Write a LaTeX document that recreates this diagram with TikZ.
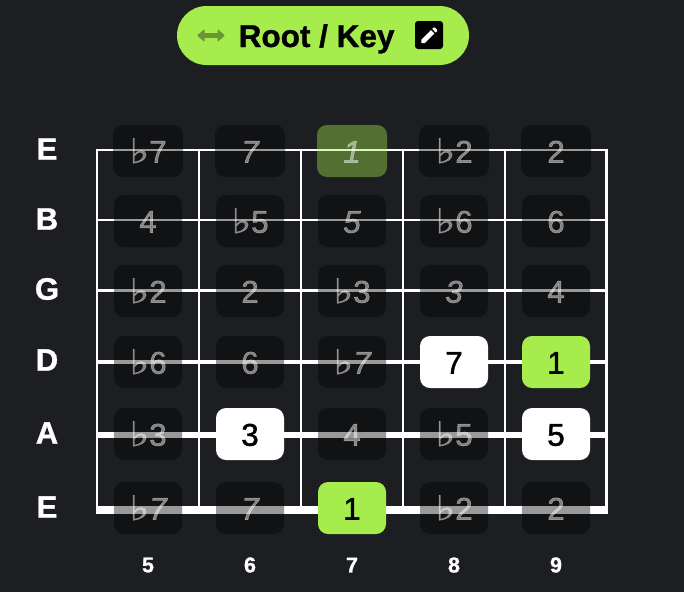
\documentclass[tikz,border=0pt]{standalone}
\usepackage{fontspec}
\setmainfont{Liberation Sans}
\newfontfamily\flatfont[FakeBold=0.6]{DejaVu Sans}
\newfontfamily\notefont[FakeBold=1.3]{Liberation Sans}
\newfontfamily\heavyfont[FakeBold=1.0]{Liberation Sans}
\definecolor{pagebg}{HTML}{1D1E22}
\definecolor{lime}{HTML}{A6EC4C}
\definecolor{arrowgreen}{HTML}{6B9636}
\newcommand{\fl}{{\flatfont\fontsize{27}{27}\selectfont\raisebox{-0.5pt}{\scalebox{1.6}[1.27]{♭}}}\kern-0.5pt}
\tikzset{
  x=1pt,y=-1pt,
  notebase/.style={rounded corners=10pt,minimum width=68pt,minimum height=52pt,inner sep=0pt,font=\notefont\fontsize{31.5}{31.5}\selectfont,text height=23.5pt,text depth=0pt},
  ghost/.style={notebase,fill=black,fill opacity=0.4,text=white,text opacity=0.47},
  ghostwide/.style={ghost,minimum width=70pt},
  rootghost/.style={notebase,minimum width=70pt,fill=lime,fill opacity=0.4,text=white,text opacity=0.47},
  rootnote/.style={notebase,fill=lime,text=black},
  tonenote/.style={notebase,fill=white,text=black},
  strlabel/.style={text=white,font=\heavyfont\bfseries\fontsize{31}{31}\selectfont,inner sep=0pt},
  fretlabel/.style={text=white,font=\heavyfont\bfseries\fontsize{21.5}{21.5}\selectfont,inner sep=0pt},
  wire/.style={draw=white,line cap=butt},
}
\begin{document}
\begin{tikzpicture}
\useasboundingbox[fill=pagebg] (0,0) rectangle (684,592);
% pill
\node[fill=lime,rounded corners=29.5pt,minimum width=292pt,minimum height=59pt,inner sep=0pt] (pill) at (323,35.5) {};
\node[inner sep=0pt,text=black,font=\heavyfont\bfseries\fontsize{31.5}{31.5}\selectfont,anchor=base west] (title) at (238.5,47) {Root / Key};
\coordinate (arrL) at (197,35.5);
\coordinate (arrR) at (225,35.5);
\draw[arrowgreen,line width=4.4pt] (arrL) ++(5,0) -- ([xshift=-5pt]arrR);
\fill[arrowgreen,rounded corners=0.8pt] (arrL) -- ++(7.5,-6.5) -- ++(0,13) -- cycle;
\fill[arrowgreen,rounded corners=0.8pt] (arrR) -- ++(-7.5,-6.5) -- ++(0,13) -- cycle;
\node[fill=black,rounded corners=3pt,minimum size=28pt,inner sep=0pt] (editbox) at (429,35) {};
\fill[white] (421.3,43.2) -- (421.3,39.8) -- (431,30.1) -- (434.4,33.5) -- (424.7,43.2) -- cycle;
\fill[white] (432.2,28.9) -- (433.4,27.7) .. controls (433.9,27.2) and (434.6,27.2) .. (435.1,27.7) -- (437,29.6) .. controls (437.5,30.1) and (437.5,30.8) .. (437,31.3) -- (435.7,32.5) -- cycle;
% fret and string lines
\foreach \n/\x in {0/97,1/199,2/301,3/403,4/505}{
  \coordinate (ft\n) at (\x,149);
  \coordinate (fb\n) at (\x,510);
  \draw[wire,line width=2pt] (ft\n) -- (fb\n);
}
\coordinate (ft5) at (606.5,149);
\coordinate (fb5) at (606.5,510);
\draw[wire,line width=2.5pt] (ft5) -- (fb5);
\foreach \n/\y/\w in {1/150/2,2/220/2,3/290.5/3,4/362/4,5/435/6,6/510/8}{
  \coordinate (sl\n) at (96,\y);
  \coordinate (sr\n) at (608,\y);
  \draw[wire,line width=\w pt] (sl\n) -- (sr\n);
}
% string names
\node[strlabel] (s1) at (47,149) {E};
\node[strlabel] (s2) at (47,219) {B};
\node[strlabel] (s3) at (47,289) {G};
\node[strlabel] (s4) at (47,360) {D};
\node[strlabel] (s5) at (47,433) {A};
\node[strlabel] (s6) at (47,507) {E};
% notes: high E
\node[ghostwide] (n11) at (148,151) {\fl 7};
\node[ghostwide] (n12) at (250,151) {\itshape 7};
\node[rootghost] (n13) at (352,151) {\itshape 1};
\node[ghostwide] (n14) at (454,151) {\fl 2};
\node[ghostwide] (n15) at (556,151) {2};
% B
\node[ghost] (n21) at (148,221) {4};
\node[ghost] (n22) at (250,221) {\fl 5};
\node[ghost] (n23) at (352,221) {\itshape 5};
\node[ghost] (n24) at (454,221) {\fl 6};
\node[ghost] (n25) at (556,221) {6};
% G
\node[ghost] (n31) at (148,291) {\fl 2};
\node[ghost] (n32) at (250,291) {2};
\node[ghost] (n33) at (352,291) {\fl 3};
\node[ghost] (n34) at (454,291) {\itshape 3};
\node[ghost] (n35) at (556,291) {4};
% D
\node[ghost] (n41) at (148,362) {\fl 6};
\node[ghost] (n42) at (250,362) {6};
\node[ghost] (n43) at (352,362) {\fl\itshape 7};
\node[tonenote] (n44) at (454,362) {7};
\node[rootnote] (n45) at (556,362) {1};
% A
\node[ghost] (n51) at (148,434) {\fl 3};
\node[tonenote] (n52) at (250,434) {3};
\node[ghost] (n53) at (352,434) {4};
\node[ghost] (n54) at (454,434) {\fl 5};
\node[tonenote] (n55) at (556,434) {5};
% low E
\node[ghost] (n61) at (148,508) {\fl\itshape 7};
\node[ghost] (n62) at (250,508) {\itshape 7};
\node[rootnote] (n63) at (352,508) {1};
\node[ghost] (n64) at (454,508) {\fl 2};
\node[ghost] (n65) at (556,508) {2};
% fret numbers
\node[fretlabel] (f5) at (148,565) {5};
\node[fretlabel] (f6) at (250,565) {6};
\node[fretlabel] (f7) at (352,565) {7};
\node[fretlabel] (f8) at (454,565) {8};
\node[fretlabel] (f9) at (556,565) {9};
\end{tikzpicture}
\end{document}
